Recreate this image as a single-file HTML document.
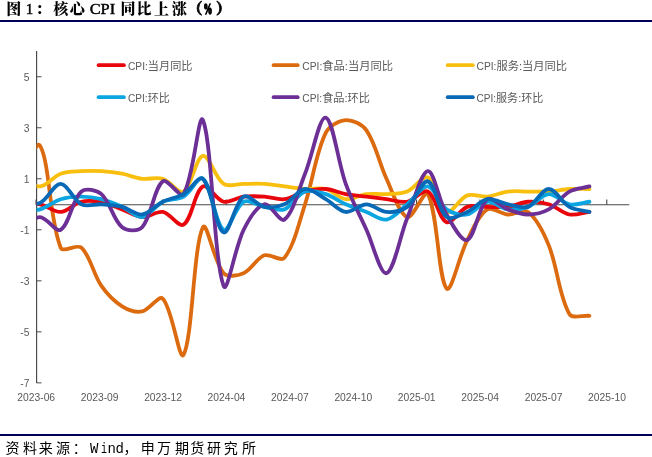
<!DOCTYPE html>
<html><head><meta charset="utf-8"><style>
html,body{margin:0;padding:0;background:#fff;}
body{width:652px;height:457px;overflow:hidden;position:relative;}
svg{position:absolute;left:0;top:0;}
.title{font-weight:bold;font-size:15px;fill:#000;}
.tc{font-family:"Liberation Serif","Noto Serif CJK SC",serif;font-weight:900;}
.tl{font-family:"Liberation Serif",serif;font-weight:normal;stroke:#000;stroke-width:0.45px;}
.src{font-size:14px;fill:#000;}
.sc{font-family:"Liberation Sans","Noto Sans CJK SC",sans-serif;}
.sl{font-family:"Liberation Mono",monospace;}
.yl{font-family:"Liberation Sans","Noto Sans CJK SC",sans-serif;font-size:10.3px;fill:#595959;text-anchor:end;}
.xl{font-family:"Liberation Sans","Noto Sans CJK SC",sans-serif;font-size:10.3px;fill:#595959;text-anchor:middle;}
.lg{font-family:"Liberation Sans","Noto Sans CJK SC",sans-serif;font-size:11.5px;fill:#595959;}
.lgl{font-size:10.5px;}
</style></head><body>
<svg width="652" height="457" viewBox="0 0 652 457">
<g class="title"><text x="6.20" y="13.60" class="tc">图</text>
<text x="25.70" y="14.00" class="tl">1</text>
<text x="35.60" y="13.60" class="tc">：</text>
<text x="53.20" y="13.60" class="tc">核</text>
<text x="69.80" y="13.60" class="tc">心</text>
<text x="89.70" y="14.00" class="tl" textLength="25.40" lengthAdjust="spacingAndGlyphs">CPI</text>
<text x="120.60" y="13.60" class="tc">同</text>
<text x="136.60" y="13.60" class="tc">比</text>
<text x="153.90" y="13.60" class="tc">上</text>
<text x="172.00" y="13.60" class="tc">涨</text>
<text x="187.60" y="13.60" class="tc" stroke="#000" stroke-width="0.7">（</text>
<text x="203.60" y="13.60" class="tl" textLength="8.80" lengthAdjust="spacingAndGlyphs" style="stroke-width:1.4px;font-weight:bold">%</text>
<text x="215.90" y="13.60" class="tc" stroke="#000" stroke-width="0.7">）</text></g>
<rect x="0" y="20" width="652" height="2" fill="#000058"/>
<line x1="36.6" y1="51" x2="36.6" y2="383" stroke="#484848" stroke-width="1.15"/>
<line x1="36.5" y1="76.75" x2="41.5" y2="76.75" stroke="#484848" stroke-width="1"/>
<text x="29.4" y="80.75" class="yl">5</text>
<line x1="36.5" y1="127.77" x2="41.5" y2="127.77" stroke="#484848" stroke-width="1"/>
<text x="29.4" y="131.77" class="yl">3</text>
<line x1="36.5" y1="178.79" x2="41.5" y2="178.79" stroke="#484848" stroke-width="1"/>
<text x="29.4" y="182.79" class="yl">1</text>
<line x1="36.5" y1="229.81" x2="41.5" y2="229.81" stroke="#484848" stroke-width="1"/>
<text x="29.4" y="233.81" class="yl">-1</text>
<line x1="36.5" y1="280.83" x2="41.5" y2="280.83" stroke="#484848" stroke-width="1"/>
<text x="29.4" y="284.83" class="yl">-3</text>
<line x1="36.5" y1="331.85" x2="41.5" y2="331.85" stroke="#484848" stroke-width="1"/>
<text x="29.4" y="335.85" class="yl">-5</text>
<line x1="36.5" y1="382.87" x2="41.5" y2="382.87" stroke="#484848" stroke-width="1"/>
<text x="29.4" y="386.87" class="yl">-7</text>
<line x1="36" y1="204.7" x2="629.3" y2="204.7" stroke="#484848" stroke-width="1.15"/>
<line x1="36.00" y1="199.5" x2="36.00" y2="204.7" stroke="#484848" stroke-width="1.1"/>
<text x="36.20" y="400.8" class="xl">2023-06</text>
<line x1="99.42" y1="199.5" x2="99.42" y2="204.7" stroke="#484848" stroke-width="1.1"/>
<text x="99.62" y="400.8" class="xl">2023-09</text>
<line x1="162.84" y1="199.5" x2="162.84" y2="204.7" stroke="#484848" stroke-width="1.1"/>
<text x="163.04" y="400.8" class="xl">2023-12</text>
<line x1="226.26" y1="199.5" x2="226.26" y2="204.7" stroke="#484848" stroke-width="1.1"/>
<text x="226.46" y="400.8" class="xl">2024-04</text>
<line x1="289.68" y1="199.5" x2="289.68" y2="204.7" stroke="#484848" stroke-width="1.1"/>
<text x="289.88" y="400.8" class="xl">2024-07</text>
<line x1="353.10" y1="199.5" x2="353.10" y2="204.7" stroke="#484848" stroke-width="1.1"/>
<text x="353.30" y="400.8" class="xl">2024-10</text>
<line x1="416.52" y1="199.5" x2="416.52" y2="204.7" stroke="#484848" stroke-width="1.1"/>
<text x="416.72" y="400.8" class="xl">2025-01</text>
<line x1="479.94" y1="199.5" x2="479.94" y2="204.7" stroke="#484848" stroke-width="1.1"/>
<text x="480.14" y="400.8" class="xl">2025-04</text>
<line x1="543.36" y1="199.5" x2="543.36" y2="204.7" stroke="#484848" stroke-width="1.1"/>
<text x="543.56" y="400.8" class="xl">2025-07</text>
<line x1="606.78" y1="199.5" x2="606.78" y2="204.7" stroke="#484848" stroke-width="1.1"/>
<text x="606.98" y="400.8" class="xl">2025-10</text>
<clipPath id="pa"><rect x="36.5" y="40" width="600" height="350"/></clipPath>
<path clip-path="url(#pa)" d="M19.98,178.79 C26.65,167.74 36.32,139.40 40.01,145.63 C49.90,162.36 49.19,219.29 60.70,247.67 C62.99,253.31 77.00,243.54 81.40,247.67 C90.57,256.29 93.31,274.24 101.42,285.93 C106.88,293.80 114.18,301.37 122.12,306.34 C127.76,309.87 135.91,312.61 142.15,311.44 C149.48,310.06 158.85,294.51 162.84,298.69 C172.65,308.97 179.31,362.35 183.53,354.81 C192.66,338.54 193.29,246.83 202.89,227.26 C206.64,219.62 213.88,262.23 223.59,273.18 C227.45,277.53 237.88,275.69 243.62,273.18 C251.45,269.74 256.50,258.25 264.31,255.32 C270.08,253.15 280.81,262.29 284.34,257.87 C294.38,245.29 299.02,222.46 305.03,204.30 C312.82,180.79 315.44,154.14 325.73,132.87 C329.01,126.08 338.87,120.55 345.76,120.12 C352.45,119.70 362.30,124.35 366.45,130.32 C375.88,143.90 379.06,162.99 386.48,178.79 C392.63,191.90 399.11,214.07 407.17,217.06 C412.90,219.17 424.68,188.31 427.87,194.10 C437.81,212.12 438.08,278.59 446.56,288.48 C451.21,293.90 459.24,255.57 467.26,240.01 C472.82,229.21 478.71,214.77 487.28,209.40 C492.28,206.27 501.01,214.07 507.98,214.50 C514.58,214.92 523.38,208.48 528.01,211.95 C536.96,218.68 543.84,233.14 548.70,245.12 C557.64,267.15 558.79,295.59 569.40,313.99 C572.36,319.14 582.75,315.18 589.42,315.78" fill="none" stroke="#DC6B10" stroke-width="3.80" stroke-linejoin="round" stroke-linecap="round"/>
<path clip-path="url(#pa)" d="M19.98,176.24 C26.65,179.64 33.48,186.85 40.01,186.44 C47.06,186.00 53.27,176.43 60.70,173.69 C67.07,171.33 74.47,171.57 81.40,171.14 C88.05,170.72 94.77,170.72 101.42,171.14 C108.35,171.57 115.30,172.41 122.12,173.69 C128.87,174.96 135.36,177.94 142.15,178.79 C148.94,179.64 156.50,176.83 162.84,178.79 C170.29,181.09 178.54,194.41 183.53,191.55 C191.89,186.76 195.71,157.20 202.89,155.83 C209.06,154.65 214.97,177.95 223.59,183.89 C228.54,187.30 236.94,183.89 243.62,183.89 C250.52,183.89 257.44,183.46 264.31,183.89 C271.02,184.31 277.66,185.61 284.34,186.44 C291.24,187.31 298.11,188.57 305.03,188.99 C311.91,189.42 319.22,187.36 325.73,188.99 C332.80,190.76 338.79,198.33 345.76,199.20 C352.36,200.03 359.45,194.97 366.45,194.10 C373.03,193.27 379.83,194.51 386.48,194.10 C393.40,193.66 400.90,194.06 407.17,191.55 C414.70,188.53 422.75,174.86 427.87,177.51 C435.88,181.67 438.73,208.40 446.56,211.95 C451.86,214.36 459.53,198.28 467.26,195.37 C473.10,193.17 480.70,197.27 487.28,196.65 C494.27,195.99 500.98,192.42 507.98,191.55 C514.55,190.72 521.33,191.55 528.01,191.55 C534.90,191.55 541.83,191.97 548.70,191.55 C555.62,191.12 562.47,189.43 569.40,188.99 C576.05,188.58 582.75,188.99 589.42,188.99" fill="none" stroke="#F9BF0E" stroke-width="3.80" stroke-linejoin="round" stroke-linecap="round"/>
<path clip-path="url(#pa)" d="M19.98,204.30 C26.65,204.30 33.55,203.09 40.01,204.30 C47.12,205.64 53.96,212.37 60.70,211.95 C67.75,211.52 74.13,203.48 81.40,201.75 C87.70,200.25 94.94,201.04 101.42,202.26 C108.51,203.59 115.26,206.91 122.12,209.40 C128.83,211.84 135.34,216.63 142.15,217.06 C148.91,217.48 156.39,210.76 162.84,211.95 C170.19,213.31 178.70,227.78 183.53,224.71 C192.06,219.28 194.55,191.23 202.89,186.44 C207.90,183.57 216.06,199.86 223.59,201.75 C229.63,203.26 236.83,197.50 243.62,196.65 C250.41,195.80 257.44,196.22 264.31,196.65 C271.02,197.07 277.85,200.01 284.34,199.20 C291.43,198.31 297.94,193.29 305.03,191.55 C311.74,189.89 318.91,188.57 325.73,188.99 C332.49,189.42 339.00,192.83 345.76,194.10 C352.57,195.38 359.55,195.78 366.45,196.65 C373.13,197.48 379.80,198.36 386.48,199.20 C393.38,200.06 400.62,202.96 407.17,201.75 C414.42,200.41 422.73,188.88 427.87,191.55 C435.86,195.68 438.92,219.19 446.56,222.16 C452.05,224.29 459.62,209.72 467.26,206.85 C473.20,204.62 480.61,206.85 487.28,206.85 C494.18,206.85 501.19,207.70 507.98,206.85 C514.76,206.00 521.25,202.17 528.01,201.75 C534.82,201.32 542.15,202.28 548.70,204.30 C555.95,206.53 562.16,213.14 569.40,214.50 C575.73,215.69 582.75,212.80 589.42,211.95" fill="none" stroke="#E8060C" stroke-width="3.80" stroke-linejoin="round" stroke-linecap="round"/>
<path clip-path="url(#pa)" d="M19.98,209.40 C26.65,209.40 33.70,210.98 40.01,209.40 C47.27,207.58 53.45,201.43 60.70,199.20 C67.25,197.18 74.50,196.65 81.40,196.65 C88.07,196.65 94.94,197.57 101.42,199.20 C108.51,200.97 115.39,203.90 122.12,206.85 C128.97,209.85 135.82,217.85 142.15,217.06 C149.39,216.15 155.29,205.47 162.84,201.75 C169.09,198.67 177.56,200.07 183.53,196.65 C190.91,192.42 198.57,175.21 202.89,178.79 C211.93,186.27 215.24,225.10 223.59,229.81 C228.82,232.76 235.23,206.48 243.62,201.75 C248.80,198.83 257.34,205.54 264.31,206.85 C270.92,208.09 278.57,211.57 284.34,209.40 C292.15,206.47 297.21,194.44 305.03,191.55 C311.00,189.34 319.20,192.05 325.73,194.10 C332.77,196.30 338.91,201.30 345.76,204.30 C352.48,207.25 359.57,209.37 366.45,211.95 C373.14,214.47 380.31,220.77 386.48,219.61 C393.88,218.21 400.48,209.66 407.17,204.30 C414.28,198.61 421.57,185.63 427.87,186.44 C434.70,187.33 438.93,203.96 446.56,209.40 C452.06,213.32 460.83,215.71 467.26,214.50 C474.41,213.16 480.25,202.63 487.28,201.75 C493.82,200.93 500.89,208.51 507.98,209.40 C514.46,210.21 521.85,209.17 528.01,206.85 C535.42,204.06 541.62,194.53 548.70,194.10 C555.42,193.68 562.16,202.94 569.40,204.30 C575.73,205.49 582.75,202.60 589.42,201.75" fill="none" stroke="#0BA6E1" stroke-width="3.80" stroke-linejoin="round" stroke-linecap="round"/>
<path clip-path="url(#pa)" d="M19.98,229.81 C26.65,225.56 33.30,217.06 40.01,217.06 C46.87,217.06 55.75,232.86 60.70,229.81 C69.55,224.35 72.12,199.68 81.40,191.55 C85.70,187.77 96.80,190.04 101.42,194.10 C110.37,201.95 113.14,219.95 122.12,227.26 C126.72,231.00 138.28,231.61 142.15,227.26 C151.86,216.31 153.53,188.80 162.84,181.34 C167.33,177.74 180.31,199.02 183.53,194.10 C193.67,178.61 198.70,110.51 202.89,120.12 C212.05,141.12 213.58,258.98 223.59,285.93 C227.16,295.54 234.87,247.35 243.62,229.81 C248.44,220.14 256.63,206.22 264.31,204.30 C270.21,202.82 279.81,223.01 284.34,219.61 C293.39,212.81 298.73,189.24 305.03,173.69 C312.52,155.22 319.44,115.99 325.73,117.57 C333.01,119.39 337.90,162.23 345.76,183.89 C351.47,199.64 359.48,214.54 366.45,229.81 C373.06,244.30 380.38,274.90 386.48,273.18 C393.96,271.07 399.83,236.43 407.17,218.33 C413.63,202.42 421.02,171.80 427.87,171.14 C434.15,170.53 438.82,200.96 446.56,214.50 C451.95,223.92 461.56,242.15 467.26,240.01 C475.14,237.05 478.28,205.97 487.28,199.20 C491.85,195.76 500.82,206.71 507.98,209.40 C514.39,211.81 521.32,214.50 528.01,214.50 C534.90,214.50 542.66,212.76 548.70,209.40 C556.45,205.10 561.67,195.90 569.40,191.55 C575.24,188.25 582.75,188.14 589.42,186.44" fill="none" stroke="#6C2F96" stroke-width="3.80" stroke-linejoin="round" stroke-linecap="round"/>
<path clip-path="url(#pa)" d="M19.98,201.75 C26.65,202.17 34.36,205.50 40.01,203.02 C47.93,199.55 53.91,183.68 60.70,183.89 C67.70,184.11 73.36,200.27 81.40,204.30 C86.93,207.08 94.77,203.88 101.42,204.30 C108.35,204.73 115.43,205.17 122.12,206.85 C129.00,208.58 135.78,215.30 142.15,214.50 C149.36,213.60 155.61,205.32 162.84,201.75 C169.40,198.51 177.23,197.71 183.53,194.10 C190.58,190.06 198.88,174.96 202.89,178.79 C212.23,187.71 215.67,228.89 223.59,232.36 C229.24,234.84 234.94,202.09 243.62,196.65 C248.51,193.58 257.07,205.49 264.31,206.85 C270.65,208.04 278.37,206.92 284.34,204.30 C291.95,200.96 297.76,189.89 305.03,188.99 C311.56,188.19 319.04,195.43 325.73,199.20 C332.61,203.08 338.72,211.07 345.76,211.95 C352.29,212.77 359.57,204.30 366.45,204.30 C373.14,204.30 379.67,211.53 386.48,211.95 C393.25,212.38 401.74,210.87 407.17,206.85 C415.54,200.66 421.97,179.81 427.87,181.34 C435.10,183.22 437.97,210.38 446.56,217.06 C451.10,220.58 460.83,214.77 467.26,211.95 C474.41,208.82 480.13,200.54 487.28,199.20 C493.70,197.99 501.01,202.99 507.98,204.30 C514.58,205.54 522.24,209.02 528.01,206.85 C535.81,203.92 541.80,188.99 548.70,188.99 C555.60,188.99 561.67,202.49 569.40,206.85 C575.24,210.15 582.75,210.25 589.42,211.95" fill="none" stroke="#0869B6" stroke-width="3.80" stroke-linejoin="round" stroke-linecap="round"/>
<line x1="98.6" y1="65.2" x2="123.9" y2="65.2" stroke="#E8060C" stroke-width="3.80" stroke-linecap="round"/>
<text x="128.0" y="70.3" class="lg" textLength="64.5" lengthAdjust="spacingAndGlyphs"><tspan class="lgl">CPI:</tspan>当月同比</text>
<line x1="273.6" y1="65.2" x2="297.7" y2="65.2" stroke="#DC6B10" stroke-width="3.80" stroke-linecap="round"/>
<text x="302.3" y="70.3" class="lg" textLength="90.8" lengthAdjust="spacingAndGlyphs"><tspan class="lgl">CPI:</tspan>食品:当月同比</text>
<line x1="447.7" y1="65.2" x2="472.8" y2="65.2" stroke="#F9BF0E" stroke-width="3.80" stroke-linecap="round"/>
<text x="476.5" y="70.3" class="lg" textLength="90.6" lengthAdjust="spacingAndGlyphs"><tspan class="lgl">CPI:</tspan>服务:当月同比</text>
<line x1="98.6" y1="97.2" x2="123.9" y2="97.2" stroke="#0BA6E1" stroke-width="3.80" stroke-linecap="round"/>
<text x="128.0" y="102.3" class="lg" textLength="41.8" lengthAdjust="spacingAndGlyphs"><tspan class="lgl">CPI:</tspan>环比</text>
<line x1="273.6" y1="97.2" x2="297.7" y2="97.2" stroke="#6C2F96" stroke-width="3.80" stroke-linecap="round"/>
<text x="302.3" y="102.3" class="lg" textLength="67.6" lengthAdjust="spacingAndGlyphs"><tspan class="lgl">CPI:</tspan>食品:环比</text>
<line x1="447.7" y1="97.2" x2="472.8" y2="97.2" stroke="#0869B6" stroke-width="3.80" stroke-linecap="round"/>
<text x="476.5" y="102.3" class="lg" textLength="66.8" lengthAdjust="spacingAndGlyphs"><tspan class="lgl">CPI:</tspan>服务:环比</text>
<rect x="0" y="434" width="652" height="2" fill="#000058"/>
<g class="src"><text x="5.40" y="452.80" class="sc">资</text>
<text x="23.10" y="452.80" class="sc">料</text>
<text x="38.70" y="452.80" class="sc">来</text>
<text x="55.90" y="452.80" class="sc">源</text>
<text x="72.70" y="452.80" class="sc">：</text>
<text x="90.00" y="452.80" class="sl">W</text>
<text x="100.90" y="452.80" class="sl" textLength="6.00" lengthAdjust="spacingAndGlyphs">i</text>
<text x="107.50" y="452.80" class="sl">n</text>
<text x="115.40" y="452.80" class="sl">d</text>
<text x="123.60" y="452.80" class="sc">，</text>
<text x="140.80" y="452.80" class="sc">申</text>
<text x="157.10" y="452.80" class="sc">万</text>
<text x="174.90" y="452.80" class="sc">期</text>
<text x="190.30" y="452.80" class="sc">货</text>
<text x="207.00" y="452.80" class="sc">研</text>
<text x="223.70" y="452.80" class="sc">究</text>
<text x="241.90" y="452.80" class="sc">所</text></g>
</svg>
</body></html>
